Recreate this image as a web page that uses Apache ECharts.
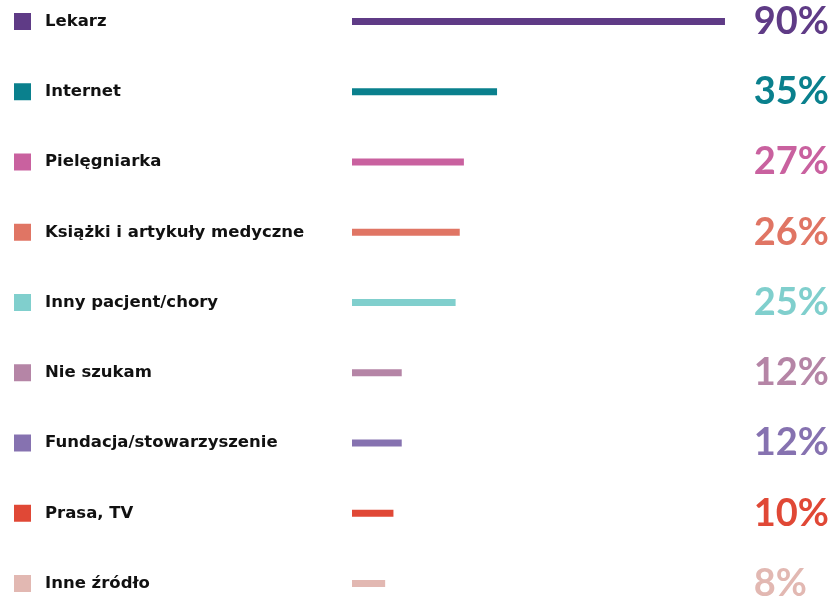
<!DOCTYPE html>
<html><head><meta charset="utf-8">
<script src="https://cdn.jsdelivr.net/npm/echarts@6/dist/echarts.min.js"></script>
<style>html,body{margin:0;padding:0;background:#fff}#c{width:835px;height:598px}</style>
</head><body><div id="c"></div>
<script>
const categories = ['Lekarz','Internet','Pielęgniarka','Książki i artykuły medyczne','Inny pacjent/chory','Nie szukam','Fundacja/stowarzyszenie','Prasa, TV','Inne źródło'];
const values = [90,35,27,26,25,12,12,10,8];
const colors = ['#5f3b86','#0a808d','#c9619f','#e07564','#80cfcd','#b585a6','#8672b0','#e04836','#e2b8b2'];

const leftRich = { t: { fontFamily: 'DejaVu Sans', fontWeight: 700, fontSize: 16.5, color: '#111', padding: [0,0,0,14] } };
const rightRich = {};
colors.forEach((c, i) => {
  leftRich['s' + i] = { width: 17, height: 17, backgroundColor: c };
  rightRich['p' + i] = { fontFamily: 'Lato', fontWeight: 700, fontSize: 38, color: c };
});

const chart = echarts.init(document.getElementById('c'), null, { renderer: 'canvas' });
chart.setOption({
  animation: false,
  grid: { left: 352, top: 21.5, width: 393.7, height: 562, containLabel: false, outerBoundsMode: 'none' },
  xAxis: { type: 'value', min: 0, max: 95, show: false },
  yAxis: [
    { type: 'category', data: categories, inverse: true, boundaryGap: false,
      axisLine: { show: false }, axisTick: { show: false }, splitLine: { show: false },
      axisLabel: { align: 'left', margin: 338, interval: 0,
        formatter: (v, i) => '{s' + i + '|}{t|' + v + '}', rich: leftRich } },
    { type: 'category', data: categories, inverse: true, boundaryGap: false, position: 'right',
      axisLine: { show: false }, axisTick: { show: false }, splitLine: { show: false },
      axisLabel: { align: 'left', margin: 8, interval: 0,
        formatter: (v, i) => '{p' + i + '|' + values[i] + '%}', rich: rightRich } }
  ],
  series: [{
    type: 'bar', yAxisIndex: 0, barWidth: 7,
    data: values.map((v, i) => ({ value: v, itemStyle: { color: colors[i] } }))
  }]
});
</script></body></html>
